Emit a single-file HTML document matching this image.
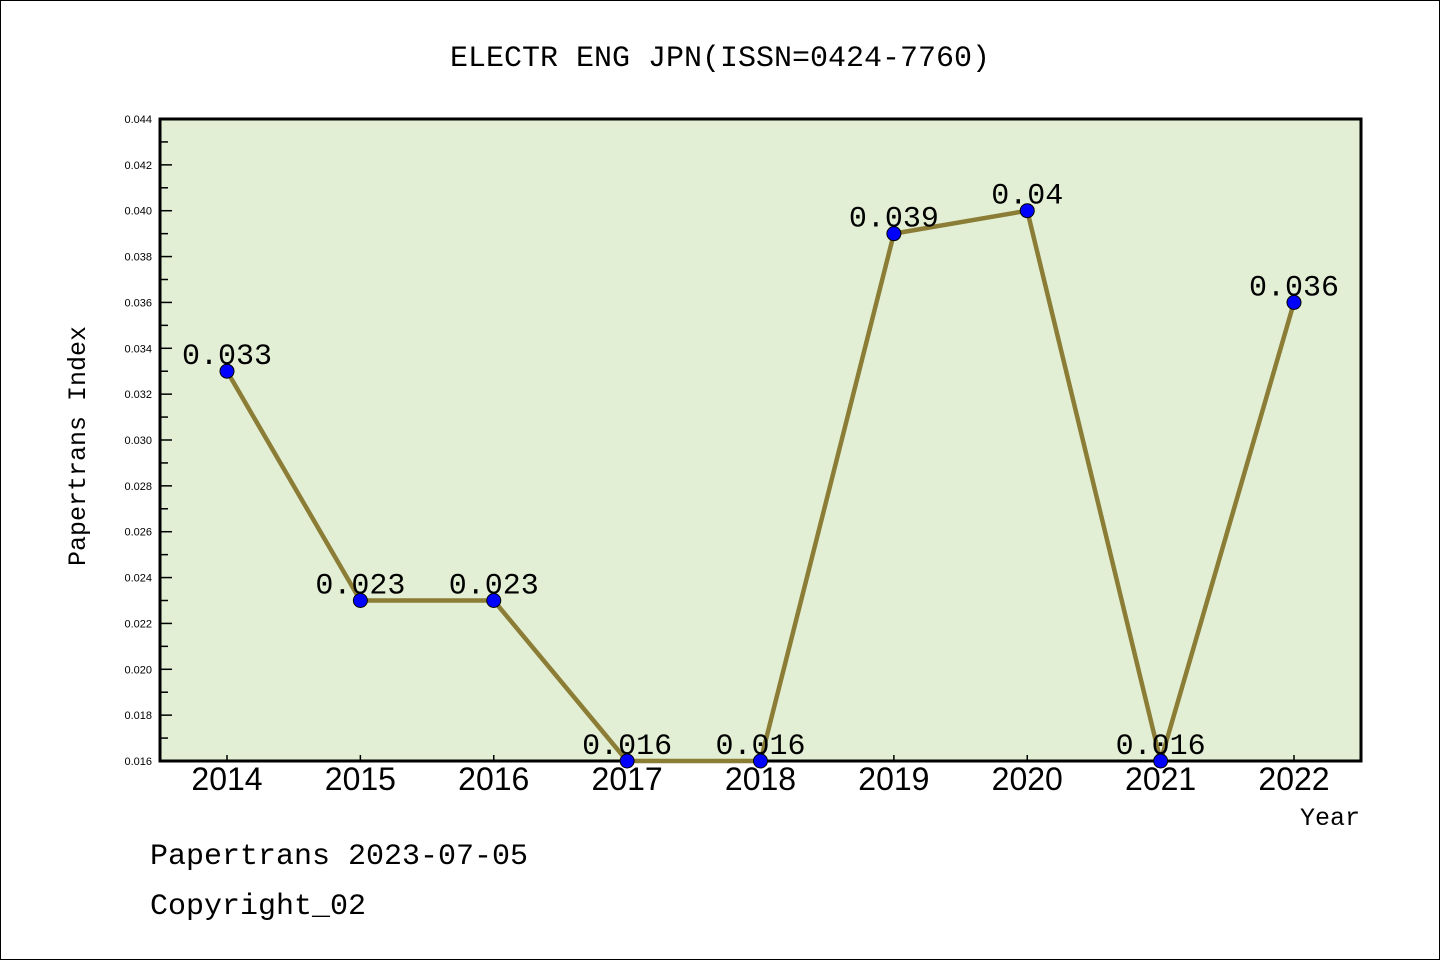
<!DOCTYPE html>
<html><head><meta charset="utf-8"><style>
html,body{margin:0;padding:0;background:#fff}
svg{display:block}
</style></head><body>
<svg id="chart" width="1440" height="960" xmlns="http://www.w3.org/2000/svg">
<rect x="0.5" y="0.5" width="1439" height="959" fill="#fff" stroke="#000"/>
<text x="720" y="66" text-anchor="middle" font-family="'Liberation Mono',monospace" font-size="30">ELECTR ENG JPN(ISSN=0424-7760)</text>
<rect x="160" y="119" width="1201" height="642" fill="#e2efd4" stroke="#000" stroke-width="3"/>
<g id="yaxis"></g>
<g id="xaxis"></g>
<g id="series"></g>
<text transform="translate(85,446) rotate(-90)" text-anchor="middle" font-family="'Liberation Mono',monospace" font-size="25">Papertrans Index</text>
<text x="1360" y="825" text-anchor="end" font-family="'Liberation Mono',monospace" font-size="25">Year</text>
<text x="150" y="864" font-family="'Liberation Mono',monospace" font-size="30">Papertrans 2023-07-05</text>
<text x="150" y="914" font-family="'Liberation Mono',monospace" font-size="30">Copyright_02</text>
</svg>
<script>
const years = ["2014","2015","2016","2017","2018","2019","2020","2021","2022"];
const values = [0.033,0.023,0.023,0.016,0.016,0.039,0.04,0.016,0.036];
const valueLabels = ["0.033","0.023","0.023","0.016","0.016","0.039","0.04","0.016","0.036"];
const yTicks = ["0.016","0.018","0.020","0.022","0.024","0.026","0.028","0.030","0.032","0.034","0.036","0.038","0.040","0.042","0.044"];

const NS="http://www.w3.org/2000/svg";
const x0=160,x1=1361,y0=761,y1=119,yMin=0.016,yMax=0.044;
const xs=i=>227+(1294-227)*i/(years.length-1);
const ys=v=>y0-(v-yMin)/(yMax-yMin)*(y0-y1);
function mk(tag,attrs,parent){const e=document.createElementNS(NS,tag);for(const k in attrs)e.setAttribute(k,attrs[k]);parent.appendChild(e);return e;}
const ya=document.getElementById('yaxis'),xa=document.getElementById('xaxis'),sg=document.getElementById('series');
yTicks.forEach((t,i)=>{
  const y=ys(parseFloat(t));
  const l=mk('line',{x1:x0,x2:x0+12,y1:y,y2:y,stroke:'#000','stroke-width':1.5},ya);
  
  
  const tx=mk('text',{x:152,y:y+4,'text-anchor':'end','font-family':"'Liberation Sans',sans-serif",'font-size':11},ya);
  tx.textContent=t;
  
  
  if(i<yTicks.length-1){
    const ym=ys(parseFloat(t)+0.001);
    const m=mk('line',{x1:x0,x2:x0+8,y1:ym,y2:ym,stroke:'#000','stroke-width':1.5},ya);
    
    
  }
});
years.forEach((yr,i)=>{
  const x=xs(i);
  const l=mk('line',{x1:x,x2:x,y1:y0,y2:y0-6,stroke:'#000','stroke-width':1.5},xa);
  
  
  const t=mk('text',{x:x,y:790,'text-anchor':'middle','font-family':"'Liberation Sans',sans-serif",'font-size':32},xa);
  t.textContent=yr;
  
  
});
const pts=values.map((v,i)=>xs(i)+','+ys(v)).join(' ');
const pl=mk('polyline',{points:pts,fill:'none',stroke:'#8b7d35','stroke-width':4.5,'stroke-linejoin':'round'},sg);


values.forEach((v,i)=>{
  const c=mk('circle',{cx:xs(i),cy:ys(v),r:7,fill:'#0000ff',stroke:'#000','stroke-width':1},sg);
  
  
  const t=mk('text',{x:xs(i),y:ys(v)-7,'text-anchor':'middle','font-family':"'Liberation Mono',monospace",'font-size':30},sg);
  t.textContent=valueLabels[i];
  
  
});
</script>
</body></html>
